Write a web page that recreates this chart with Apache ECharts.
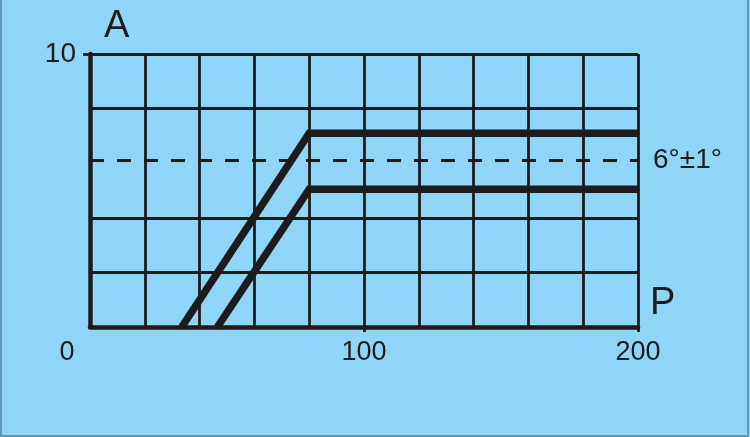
<!DOCTYPE html>
<html>
<head>
<meta charset="utf-8">
<script src="https://cdn.jsdelivr.net/npm/echarts@6/dist/echarts.min.js"></script>
<style>html,body{margin:0;padding:0;background:#8ed5f7;}#c{width:750px;height:437px;}</style>
</head>
<body>
<div id="c"></div>
<script>
// data
const upperLine = [[33.5, 0], [80, 7.1], [200, 7.1]];
const lowerLine = [[46.5, 0], [80, 5.05], [200, 5.05]];
const toleranceLevel = 6.1;          // dashed line "6°±1°"
const horizontalGrid = [2, 4, 8, 10];
const verticalGrid = [20, 40, 60, 80, 100, 120, 140, 160, 180, 200];
const xTickLabels = [0, 100, 200];
const yTickLabels = [10];
const xName = 'P';
const yName = 'A';
const toleranceText = '6°±1°';

const ink = '#1d1b1c';
const gridStyle = { color: ink, width: 2.8, type: 'solid' };
const chart = echarts.init(document.getElementById('c'));
chart.setOption({
  backgroundColor: '#8ed5f7',
  animation: false,
  grid: { left: 90, right: 112, top: 54, bottom: 110 },
  xAxis: {
    type: 'value', min: 0, max: 200, interval: 20,
    axisLine: { show: true, onZero: false, lineStyle: { color: ink, width: 4.5 } },
    axisTick: { show: true, customValues: [100, 200], length: 5, lineStyle: { color: ink, width: 2.8 } },
    axisLabel: {
      customValues: xTickLabels, margin: 12, fontSize: 27, color: ink,
      fontFamily: 'Liberation Sans',
      formatter: v => v === 0 ? '{z|0}' : String(v),
      rich: { z: { fontSize: 27, color: ink, fontFamily: 'Liberation Sans', padding: [0, 46, 0, 0] } }
    },
    splitLine: { show: false },
    name: xName, nameLocation: 'end', nameGap: 0,
    nameTextStyle: { fontSize: 38, color: ink, fontFamily: 'Liberation Sans', align: 'left', verticalAlign: 'bottom', padding: [0, 0, 4, 12] }
  },
  yAxis: {
    type: 'value', min: 0, max: 10, interval: 2,
    axisLine: { show: true, onZero: false, lineStyle: { color: ink, width: 4.5 } },
    axisTick: { show: true, customValues: [10], length: 7, lineStyle: { color: ink, width: 2.8 } },
    axisLabel: { customValues: yTickLabels, margin: 14, fontSize: 28, color: ink, fontFamily: 'Liberation Sans' },
    splitLine: { show: false },
    name: yName, nameLocation: 'end', nameGap: 8,
    nameTextStyle: { fontSize: 38, color: ink, fontFamily: 'Liberation Sans', align: 'left', padding: [0, 0, 0, 14] }
  },
  graphic: [{
    type: 'rect', silent: true, z: 100,
    shape: { x: 1, y: -5, width: 747, height: 441 },
    style: { fill: 'none', stroke: '#5f98b3', lineWidth: 2 }
  }],
  series: [
    {
      type: 'line', data: [], z: 1, silent: true,
      markLine: {
        silent: true, symbol: 'none', label: { show: false }, animation: false,
        data: horizontalGrid.map(v => ({ yAxis: v, lineStyle: gridStyle }))
          .concat(verticalGrid.map(v => ({ xAxis: v, lineStyle: gridStyle })))
          .concat([{ yAxis: toleranceLevel, lineStyle: { color: ink, width: 2.8, type: [14, 13] },
                     label: { show: true, position: 'end', formatter: toleranceText, fontSize: 28, color: ink,
                              fontFamily: 'Liberation Sans', distance: 15 } }])
      }
    },
    {
      type: 'line', data: upperLine, symbol: 'none', z: 5,
      lineStyle: { color: ink, width: 7.5, join: 'miter', cap: 'butt' }
    },
    {
      type: 'line', data: lowerLine, symbol: 'none', z: 5,
      lineStyle: { color: ink, width: 7.5, join: 'miter', cap: 'butt' }
    }
  ]
});
</script>
</body>
</html>
